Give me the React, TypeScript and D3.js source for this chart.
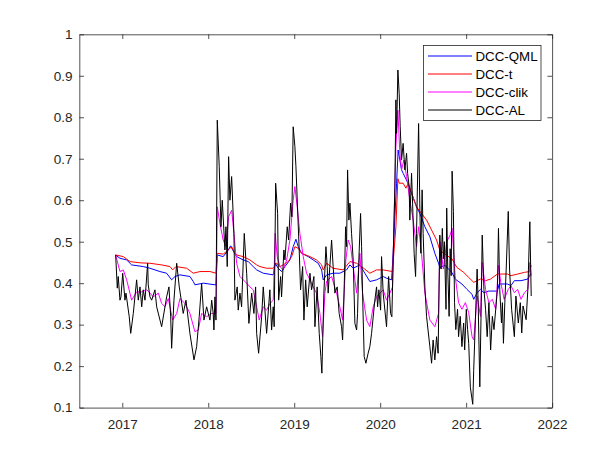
import React, { useEffect, useRef } from "react";
import * as d3 from "d3";

// ─── Layout / style ───────────────────────────────────────────────────────────
const WIDTH = 610;
const HEIGHT = 458;
const MARGIN = { top: 34.3, right: 57.9, bottom: 50.4, left: 79.3 };
const AXIS_COLOR = "#262626";
const FONT = "'Liberation Sans', Arial, Helvetica, sans-serif";
const TICK_LEN = 4.7;

// ─── Data ─────────────────────────────────────────────────────────────────────
const xTicks = [2017, 2018, 2019, 2020, 2021, 2022];
const yTicks = [0.1, 0.2, 0.3, 0.4, 0.5, 0.6, 0.7, 0.8, 0.9, 1];
const seriesNames = ["DCC-QML", "DCC-t", "DCC-clik", "DCC-AL"];
const seriesColors = ["#0000ff", "#ff0000", "#ff00ff", "#000000"];

const qmlYears = [
  2016.923, 2016.973, 2017.051, 2017.109, 2017.244, 2017.322, 2017.438, 2017.516, 2017.574, 2017.613,
  2017.671, 2017.787, 2017.826, 2017.845, 2017.942, 2018.078, 2018.09, 2018.105, 2018.174, 2018.233,
  2018.26, 2018.284, 2018.33, 2018.407, 2018.465, 2018.523, 2018.563, 2018.64, 2018.756, 2018.779,
  2018.814, 2018.853, 2018.892, 2018.95, 2018.988, 2019.02, 2019.047, 2019.086, 2019.163, 2019.221,
  2019.279, 2019.319, 2019.337, 2019.377, 2019.453, 2019.531, 2019.609, 2019.648, 2019.686, 2019.764,
  2019.822, 2019.88, 2019.958, 2020.035, 2020.074, 2020.133, 2020.151, 2020.171, 2020.191, 2020.209,
  2020.229, 2020.249, 2020.267, 2020.314, 2020.365, 2020.423, 2020.462, 2020.52, 2020.578, 2020.636,
  2020.679, 2020.695, 2020.755, 2020.794, 2020.834, 2020.872, 2020.951, 2021.01, 2021.069, 2021.088,
  2021.128, 2021.167, 2021.207, 2021.265, 2021.364, 2021.384, 2021.481, 2021.521, 2021.561, 2021.638,
  2021.718, 2021.749,
];
const qmlValues = [
  0.468, 0.46, 0.456, 0.444, 0.44, 0.436, 0.428, 0.424, 0.408, 0.416,
  0.42, 0.416, 0.404, 0.396, 0.4, 0.396, 0.396, 0.468, 0.464, 0.48,
  0.49, 0.48, 0.464, 0.456, 0.452, 0.44, 0.432, 0.424, 0.42, 0.448,
  0.436, 0.428, 0.44, 0.456, 0.488, 0.506, 0.488, 0.472, 0.464, 0.456,
  0.448, 0.432, 0.408, 0.42, 0.424, 0.424, 0.432, 0.444, 0.436, 0.444,
  0.424, 0.404, 0.408, 0.416, 0.412, 0.408, 0.472, 0.56, 0.641, 0.721,
  0.697, 0.673, 0.665, 0.645, 0.617, 0.584, 0.568, 0.536, 0.512, 0.472,
  0.448, 0.438, 0.443, 0.434, 0.426, 0.41, 0.398, 0.385, 0.373, 0.361,
  0.377, 0.385, 0.377, 0.381, 0.381, 0.398, 0.398, 0.394, 0.406, 0.406,
  0.41, 0.422,
];

const tYears = [
  2016.923, 2017.012, 2017.09, 2017.206, 2017.322, 2017.458, 2017.555, 2017.586, 2017.624, 2017.749,
  2017.826, 2017.903, 2018.02, 2018.09, 2018.105, 2018.174, 2018.233, 2018.272, 2018.299, 2018.33,
  2018.407, 2018.485, 2018.563, 2018.601, 2018.679, 2018.756, 2018.795, 2018.834, 2018.872, 2018.93,
  2018.97, 2019.008, 2019.047, 2019.086, 2019.183, 2019.26, 2019.319, 2019.337, 2019.377, 2019.453,
  2019.57, 2019.648, 2019.726, 2019.784, 2019.88, 2019.958, 2020.035, 2020.144, 2020.159, 2020.183,
  2020.206, 2020.221, 2020.267, 2020.299, 2020.326, 2020.365, 2020.423, 2020.481, 2020.54, 2020.598,
  2020.656, 2020.695, 2020.774, 2020.834, 2020.892, 2020.971, 2021.03, 2021.088, 2021.128, 2021.167,
  2021.226, 2021.285, 2021.364, 2021.481, 2021.521, 2021.599, 2021.678, 2021.737, 2021.757,
];
const tValues = [
  0.468, 0.464, 0.452, 0.449, 0.448, 0.444, 0.44, 0.432, 0.44, 0.436,
  0.424, 0.428, 0.428, 0.424, 0.472, 0.47, 0.48, 0.488, 0.476, 0.468,
  0.464, 0.456, 0.444, 0.44, 0.436, 0.436, 0.448, 0.44, 0.444, 0.452,
  0.464, 0.488, 0.484, 0.472, 0.464, 0.456, 0.444, 0.432, 0.448, 0.436,
  0.432, 0.452, 0.448, 0.44, 0.424, 0.432, 0.432, 0.428, 0.472, 0.536,
  0.652, 0.641, 0.641, 0.629, 0.641, 0.617, 0.584, 0.568, 0.552, 0.528,
  0.504, 0.479, 0.467, 0.459, 0.438, 0.426, 0.414, 0.402, 0.406, 0.41,
  0.406, 0.41, 0.422, 0.422, 0.418, 0.422, 0.426, 0.428, 0.443,
];

const clikYears = [
  2016.923, 2016.973, 2017.012, 2017.051, 2017.109, 2017.167, 2017.226, 2017.284, 2017.322, 2017.36,
  2017.419, 2017.458, 2017.497, 2017.535, 2017.586, 2017.633, 2017.671, 2017.729, 2017.787, 2017.845,
  2017.884, 2017.923, 2017.981, 2018.04, 2018.09, 2018.105, 2018.136, 2018.174, 2018.206, 2018.237,
  2018.272, 2018.299, 2018.33, 2018.369, 2018.407, 2018.447, 2018.485, 2018.523, 2018.563, 2018.593,
  2018.64, 2018.679, 2018.717, 2018.756, 2018.779, 2018.802, 2018.834, 2018.872, 2018.912, 2018.95,
  2018.988, 2019.008, 2019.035, 2019.066, 2019.105, 2019.144, 2019.183, 2019.221, 2019.26, 2019.299,
  2019.33, 2019.357, 2019.377, 2019.435, 2019.493, 2019.531, 2019.563, 2019.601, 2019.628, 2019.656,
  2019.686, 2019.726, 2019.764, 2019.795, 2019.842, 2019.88, 2019.919, 2019.958, 2019.997, 2020.035,
  2020.074, 2020.113, 2020.144, 2020.159, 2020.183, 2020.206, 2020.229, 2020.249, 2020.276, 2020.307,
  2020.345, 2020.384, 2020.423, 2020.447, 2020.481, 2020.52, 2020.578, 2020.636, 2020.679, 2020.695,
  2020.735, 2020.774, 2020.814, 2020.837, 2020.872, 2020.912, 2020.951, 2020.991, 2021.03, 2021.069,
  2021.088, 2021.128, 2021.167, 2021.187, 2021.226, 2021.265, 2021.305, 2021.344, 2021.376, 2021.403,
  2021.442, 2021.49, 2021.521, 2021.561, 2021.599, 2021.638, 2021.678, 2021.718, 2021.741, 2021.757,
];
const clikValues = [
  0.468, 0.428, 0.432, 0.408, 0.359, 0.379, 0.379, 0.384, 0.376, 0.367,
  0.376, 0.351, 0.343, 0.363, 0.311, 0.327, 0.363, 0.351, 0.327, 0.283,
  0.287, 0.327, 0.319, 0.327, 0.327, 0.584, 0.544, 0.504, 0.488, 0.56,
  0.576, 0.52, 0.448, 0.416, 0.408, 0.4, 0.391, 0.384, 0.343, 0.311,
  0.343, 0.335, 0.351, 0.359, 0.52, 0.464, 0.44, 0.432, 0.456, 0.504,
  0.6, 0.633, 0.584, 0.52, 0.464, 0.424, 0.408, 0.391, 0.376, 0.327,
  0.271, 0.376, 0.405, 0.416, 0.376, 0.343, 0.311, 0.456, 0.504, 0.488,
  0.44, 0.376, 0.472, 0.376, 0.311, 0.295, 0.343, 0.367, 0.376, 0.384,
  0.359, 0.376, 0.391, 0.536, 0.729, 0.817, 0.713, 0.673, 0.697, 0.657,
  0.6, 0.552, 0.488, 0.536, 0.472, 0.376, 0.311, 0.295, 0.327, 0.5,
  0.434, 0.5, 0.516, 0.532, 0.418, 0.353, 0.337, 0.353, 0.329, 0.271,
  0.263, 0.369, 0.32, 0.45, 0.385, 0.353, 0.361, 0.337, 0.443, 0.402,
  0.361, 0.385, 0.394, 0.377, 0.385, 0.361, 0.377, 0.385, 0.45, 0.418,
];

const alYears = [
  2016.923, 2016.942, 2016.953, 2016.973, 2016.985, 2017.005, 2017.031, 2017.043, 2017.081, 2017.098,
  2017.128, 2017.167, 2017.186, 2017.206, 2017.226, 2017.244, 2017.264, 2017.295, 2017.302, 2017.322,
  2017.342, 2017.38, 2017.4, 2017.458, 2017.516, 2017.543, 2017.563, 2017.574, 2017.601, 2017.633,
  2017.663, 2017.709, 2017.741, 2017.787, 2017.834, 2017.865, 2017.895, 2017.923, 2017.95, 2017.981,
  2018.02, 2018.04, 2018.058, 2018.066, 2018.078, 2018.09, 2018.105, 2018.128, 2018.148, 2018.163,
  2018.194, 2018.206, 2018.221, 2018.237, 2018.252, 2018.272, 2018.299, 2018.31, 2018.337, 2018.349,
  2018.369, 2018.388, 2018.419, 2018.447, 2018.473, 2018.505, 2018.531, 2018.551, 2018.563, 2018.586,
  2018.621, 2018.64, 2018.679, 2018.717, 2018.737, 2018.756, 2018.767, 2018.784, 2018.807, 2018.819,
  2018.842, 2018.853, 2018.88, 2018.892, 2018.919, 2018.935, 2018.958, 2018.973, 2018.988, 2019.008,
  2019.02, 2019.058, 2019.074, 2019.098, 2019.113, 2019.133, 2019.151, 2019.183, 2019.202, 2019.229,
  2019.241, 2019.267, 2019.291, 2019.31, 2019.322, 2019.345, 2019.369, 2019.384, 2019.395, 2019.407,
  2019.435, 2019.453, 2019.473, 2019.5, 2019.523, 2019.551, 2019.563, 2019.578, 2019.598, 2019.609,
  2019.621, 2019.636, 2019.648, 2019.667, 2019.686, 2019.706, 2019.726, 2019.737, 2019.752, 2019.772,
  2019.784, 2019.795, 2019.814, 2019.834, 2019.86, 2019.88, 2019.9, 2019.938, 2019.958, 2019.97,
  2019.985, 2020.005, 2020.016, 2020.035, 2020.074, 2020.098, 2020.121, 2020.136, 2020.151, 2020.171,
  2020.183, 2020.191, 2020.206, 2020.221, 2020.233, 2020.249, 2020.267, 2020.287, 2020.307, 2020.319,
  2020.337, 2020.345, 2020.365, 2020.377, 2020.395, 2020.412, 2020.423, 2020.447, 2020.462, 2020.473,
  2020.488, 2020.5, 2020.52, 2020.54, 2020.578, 2020.598, 2020.616, 2020.636, 2020.656, 2020.674,
  2020.694, 2020.708, 2020.723, 2020.735, 2020.747, 2020.766, 2020.774, 2020.786, 2020.802, 2020.814,
  2020.826, 2020.837, 2020.852, 2020.865, 2020.88, 2020.9, 2020.912, 2020.931, 2020.951, 2020.971,
  2020.983, 2021.002, 2021.017, 2021.03, 2021.049, 2021.077, 2021.088, 2021.108, 2021.128, 2021.14,
  2021.159, 2021.176, 2021.187, 2021.207, 2021.226, 2021.245, 2021.265, 2021.285, 2021.305, 2021.324,
  2021.344, 2021.364, 2021.376, 2021.391, 2021.411, 2021.422, 2021.434, 2021.45, 2021.466, 2021.49,
  2021.505, 2021.529, 2021.561, 2021.579, 2021.607, 2021.63, 2021.647, 2021.662, 2021.698, 2021.718,
  2021.741, 2021.757,
];
const alValues = [
  0.468, 0.388, 0.416, 0.359, 0.367, 0.424, 0.359, 0.376, 0.319, 0.279,
  0.327, 0.408, 0.359, 0.391, 0.343, 0.384, 0.359, 0.448, 0.396, 0.367,
  0.359, 0.384, 0.343, 0.295, 0.367, 0.391, 0.319, 0.243, 0.359, 0.448,
  0.391, 0.327, 0.359, 0.279, 0.215, 0.247, 0.319, 0.4, 0.311, 0.343,
  0.311, 0.359, 0.327, 0.287, 0.367, 0.311, 0.793, 0.681, 0.536, 0.6,
  0.48, 0.536, 0.44, 0.705, 0.6, 0.657, 0.52, 0.359, 0.391, 0.335,
  0.376, 0.343, 0.52, 0.424, 0.303, 0.376, 0.327, 0.391, 0.279, 0.231,
  0.319, 0.391, 0.279, 0.384, 0.287, 0.343, 0.295, 0.641, 0.568, 0.359,
  0.416, 0.367, 0.48, 0.456, 0.536, 0.504, 0.593, 0.56, 0.777, 0.729,
  0.681, 0.48, 0.384, 0.44, 0.311, 0.408, 0.343, 0.424, 0.384, 0.416,
  0.295, 0.391, 0.279, 0.223, 0.183, 0.376, 0.488, 0.44, 0.376, 0.416,
  0.504, 0.44, 0.376, 0.391, 0.327, 0.295, 0.263, 0.359, 0.536, 0.488,
  0.673, 0.552, 0.593, 0.52, 0.456, 0.303, 0.287, 0.327, 0.456, 0.568,
  0.488, 0.376, 0.223, 0.207, 0.231, 0.247, 0.279, 0.359, 0.391, 0.343,
  0.384, 0.335, 0.464, 0.376, 0.295, 0.416, 0.327, 0.319, 0.456, 0.633,
  0.842, 0.761, 0.914, 0.858, 0.777, 0.697, 0.737, 0.673, 0.713, 0.665,
  0.633, 0.552, 0.665, 0.593, 0.472, 0.416, 0.52, 0.785, 0.576, 0.472,
  0.625, 0.52, 0.391, 0.319, 0.247, 0.207, 0.263, 0.215, 0.271, 0.231,
  0.516, 0.434, 0.532, 0.459, 0.5, 0.337, 0.581, 0.434, 0.32, 0.483,
  0.418, 0.67, 0.573, 0.353, 0.288, 0.337, 0.271, 0.32, 0.247, 0.304,
  0.239, 0.337, 0.288, 0.255, 0.149, 0.108, 0.19, 0.312, 0.434, 0.353,
  0.15, 0.353, 0.516, 0.385, 0.337, 0.271, 0.353, 0.239, 0.32, 0.288,
  0.337, 0.385, 0.532, 0.385, 0.304, 0.353, 0.255, 0.353, 0.434, 0.573,
  0.434, 0.337, 0.271, 0.369, 0.304, 0.353, 0.28, 0.345, 0.312, 0.385,
  0.548, 0.369,
];

const seriesYears = [qmlYears, tYears, clikYears, alYears];
const seriesValues = [qmlValues, tValues, clikValues, alValues];

export default function App() {
  const svgRef = useRef<SVGSVGElement>(null);

  useEffect(() => {
    const node = svgRef.current;
    if (!node) return;
    const svg = d3.select(node);
    svg.selectAll("*").remove();

    const iW = WIDTH - MARGIN.left - MARGIN.right;
    const iH = HEIGHT - MARGIN.top - MARGIN.bottom;

    const x = d3.scaleLinear().domain([2016.5, 2022]).range([0, iW]);
    const y = d3.scaleLinear().domain([0.1, 1]).range([iH, 0]);

    const g = svg
      .append("g")
      .attr("transform", `translate(${MARGIN.left},${MARGIN.top})`);

    // ── Series ──────────────────────────────────────────────────────────────
    g.append("clipPath")
      .attr("id", "plot-clip")
      .append("rect")
      .attr("width", iW)
      .attr("height", iH);

    const line = d3
      .line<[number, number]>()
      .x((d) => x(d[0]))
      .y((d) => y(d[1]));

    seriesNames.forEach((_, i) => {
      const pts = seriesYears[i].map((yr, j) => [yr, seriesValues[i][j]] as [number, number]);
      g.append("path")
        .datum(pts)
        .attr("clip-path", "url(#plot-clip)")
        .attr("d", line)
        .attr("fill", "none")
        .attr("stroke", seriesColors[i])
        .attr("stroke-width", 1)
        .attr("stroke-linejoin", "round");
    });

    // ── Axes (box with inward ticks on all sides) ────────────────────────────
    const styleAxis = (sel: d3.Selection<SVGGElement, unknown, null, undefined>) => {
      sel.select(".domain").attr("stroke", AXIS_COLOR).attr("stroke-width", 0.8);
      sel.selectAll(".tick line").attr("stroke", AXIS_COLOR).attr("stroke-width", 0.8);
      sel
        .selectAll("text")
        .attr("fill", AXIS_COLOR)
        .attr("font-family", FONT)
        .attr("font-size", 13.5);
    };

    g.append("g")
      .attr("transform", `translate(0,${iH})`)
      .call(
        d3.axisBottom(x).tickValues(xTicks).tickFormat(d3.format("d"))
          .tickSizeInner(-TICK_LEN).tickSizeOuter(0).tickPadding(11.6),
      )
      .call(styleAxis);

    g.append("g")
      .call(
        d3.axisTop(x).tickValues(xTicks).tickFormat(() => "")
          .tickSizeInner(-TICK_LEN).tickSizeOuter(0),
      )
      .call(styleAxis);

    g.append("g")
      .call(
        d3.axisLeft(y).tickValues(yTicks).tickFormat((d) => `${+(+d).toFixed(1)}`)
          .tickSizeInner(-TICK_LEN).tickSizeOuter(0).tickPadding(6.8),
      )
      .call(styleAxis);

    g.append("g")
      .attr("transform", `translate(${iW},0)`)
      .call(
        d3.axisRight(y).tickValues(yTicks).tickFormat(() => "")
          .tickSizeInner(-TICK_LEN).tickSizeOuter(0),
      )
      .call(styleAxis);

    // ── Legend ──────────────────────────────────────────────────────────────
    const legend = svg.append("g").attr("transform", "translate(423.5,45.5)");
    legend
      .append("rect")
      .attr("width", 117.5)
      .attr("height", 75)
      .attr("fill", "#ffffff")
      .attr("stroke", AXIS_COLOR)
      .attr("stroke-width", 0.8);

    seriesNames.forEach((name, i) => {
      const cy = 10.5 + i * 18;
      legend
        .append("line")
        .attr("x1", 4.5)
        .attr("x2", 48.5)
        .attr("y1", cy)
        .attr("y2", cy)
        .attr("stroke", seriesColors[i])
        .attr("stroke-width", 1);
      legend
        .append("text")
        .attr("x", 52)
        .attr("y", cy)
        .attr("dy", "0.35em")
        .attr("fill", "#000000")
        .attr("font-family", FONT)
        .attr("font-size", 13.3)
        .text(name);
    });
  }, []);

  return (
    <svg
      ref={svgRef}
      width={WIDTH}
      height={HEIGHT}
      style={{ position: "absolute", left: 0, top: 0, background: "#ffffff" }}
    />
  );
}
